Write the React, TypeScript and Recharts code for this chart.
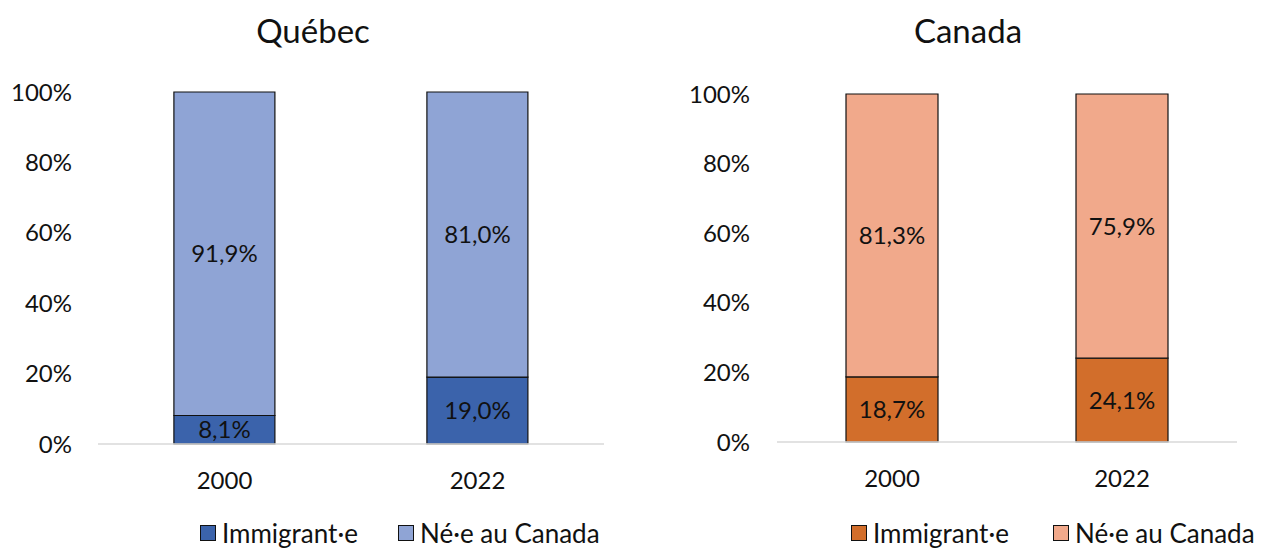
import React from "react";
import { BarChart, Bar, XAxis, YAxis, LabelList } from "recharts";

const years = ["2000", "2022"];
const quebecImmigrant = [8.1, 19.0];
const quebecNe = [91.9, 81.0];
const canadaImmigrant = [18.7, 24.1];
const canadaNe = [81.3, 75.9];
const yTicks = [0, 20, 40, 60, 80, 100];
const seriesNames = ["Immigrant·e", "Né·e au Canada"];

const FONT = "'Source Sans Pro', Lato, 'Noto Sans', sans-serif";

const fmtPct = (v: unknown) => `${Number(v).toFixed(1).replace(".", ",")}%`;

interface PanelProps {
  title: string;
  immigrant: number[];
  ne: number[];
  colors: [string, string];
  left: number;
  margin: { top: number; right: number; bottom: number; left: number };
  yWidth: number;
  yGap: number;
  titleX: number;
  legendX: [number, number];
}

function LegendBox({ colors, legendX }: { colors: [string, string]; legendX: [number, number] }) {
  return (
    <>
      {seriesNames.map((n, i) => (
        <div
          key={n}
          style={{
            position: "absolute",
            left: legendX[i],
            top: 518,
            display: "flex",
            alignItems: "center",
            fontFamily: FONT,
            fontSize: 26,
            lineHeight: "30px",
            color: "#111",
            whiteSpace: "nowrap",
          }}
        >
          <span style={{ display: "inline-block", width: 14, height: 14, background: colors[i], border: "1.5px solid #111", marginRight: 6 }} />
          <span>{n}</span>
        </div>
      ))}
    </>
  );
}

function Panel({ title, immigrant, ne, colors, left, margin, yWidth, yGap, titleX, legendX }: PanelProps) {
  const data = years.map((y, i) => ({ year: y, immigrant: immigrant[i], ne: ne[i] }));
  return (
    <div style={{ position: "absolute", left, top: 0, width: 631, height: 551 }}>
      <div
        style={{
          position: "absolute",
          left: titleX - left - 150,
          width: 300,
          top: 10,
          textAlign: "center",
          fontFamily: FONT,
          fontSize: 33,
          color: "#111",
        }}
      >
        {title}
      </div>
      <BarChart width={631} height={551} data={data} margin={margin} barCategoryGap="30%">
        <XAxis
          dataKey="year"
          axisLine={{ stroke: "#d9d9d9", strokeWidth: 1.5 }}
          tickLine={false}
          tickSize={0}
          tickMargin={28}
          height={60}
          tick={{ fill: "#111", fontSize: 24, fontFamily: FONT }}
        />
        <YAxis
          domain={[0, 100]}
          ticks={yTicks}
          width={yWidth}
          axisLine={false}
          tickLine={false}
          tickSize={0}
          tickMargin={yGap}
          tickFormatter={(v: number) => `${v}%`}
          tick={{ fill: "#111", fontSize: 24, fontFamily: FONT }}
        />
        <Bar dataKey="immigrant" name={seriesNames[0]} stackId="a" fill={colors[0]} stroke="#111" strokeWidth={1.2} isAnimationActive={false}>
          <LabelList dataKey="immigrant" position="center" formatter={fmtPct} fill="#111" fontSize={24} fontFamily={FONT} />
        </Bar>
        <Bar dataKey="ne" name={seriesNames[1]} stackId="a" fill={colors[1]} stroke="#111" strokeWidth={1.2} isAnimationActive={false}>
          <LabelList dataKey="ne" position="center" formatter={fmtPct} fill="#111" fontSize={24} fontFamily={FONT} />
        </Bar>
      </BarChart>
      <LegendBox colors={colors} legendX={legendX} />
    </div>
  );
}

export default function App() {
  return (
    <div style={{ position: "absolute", left: 0, top: 0, width: 1262, height: 551, background: "#fff", overflow: "hidden" }}>
      <Panel
        title="Québec"
        immigrant={quebecImmigrant}
        ne={quebecNe}
        colors={["#3b63ab", "#8fa4d5"]}
        left={0}
        margin={{ top: 92, right: 27, bottom: 47, left: 0 }}
        yWidth={98}
        yGap={26}
        titleX={313}
        legendX={[200, 398]}
      />
      <Panel
        title="Canada"
        immigrant={canadaImmigrant}
        ne={canadaNe}
        colors={["#d26e2b", "#f1a98b"]}
        left={631}
        margin={{ top: 94, right: 25, bottom: 49, left: 0 }}
        yWidth={146}
        yGap={27}
        titleX={968}
        legendX={[220, 422]}
      />
    </div>
  );
}
